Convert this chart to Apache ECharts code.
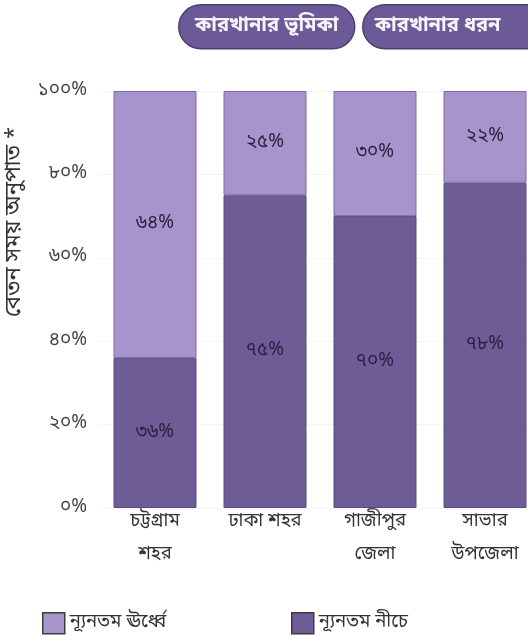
<!DOCTYPE html>
<html>
<head>
<meta charset="utf-8">
<script src="https://cdn.jsdelivr.net/npm/echarts@6/dist/echarts.min.js"></script>
<style>
html,body{margin:0;padding:0;background:#fff;overflow:hidden;}
#c{width:528px;height:637px;}
</style>
</head>
<body>
<div id="c"></div>
<script>
const categories = ['চট্টগ্রাম\nশহর', 'ঢাকা শহর', 'গাজীপুর\nজেলা', 'সাভার\nউপজেলা'];
const belowMin = [36, 75, 70, 78];
const aboveMin = [64, 25, 30, 22];
const yTicks = [0, 20, 40, 60, 80, 100];
const seriesNames = ['ন্যূনতম ঊর্ধ্বে', 'ন্যূনতম নীচে'];
const yAxisTitle = 'বেতন সময় অনুপাত *';
const buttons = ['কারখানার ভূমিকা', 'কারখানার ধরন'];

const bnDigits = ['০','১','২','৩','৪','৫','৬','৭','৮','৯'];
const toBn = s => String(s).replace(/[0-9]/g, d => bnDigits[+d]);

const FONT = '"Noto Sans Bengali","Noto Sans","Noto Serif Bengali",sans-serif';
const LIGHT = '#a794cc';
const DARK = '#6e5c97';

const chart = echarts.init(document.getElementById('c'));
chart.setOption({
  animation: false,
  textStyle: { fontFamily: FONT },
  grid: { left: 100, width: 440, top: 91, bottom: 129, outerBoundsMode: 'none', containLabel: false },
  xAxis: {
    type: 'category',
    data: categories,
    axisLine: { show: false },
    axisTick: { show: false },
    axisLabel: { color: '#333', fontSize: 18.5, lineHeight: 33, margin: -2, fontFamily: FONT }
  },
  yAxis: {
    type: 'value',
    min: yTicks[0],
    max: yTicks[yTicks.length - 1],
    interval: 20,
    axisLine: { show: false },
    axisTick: { show: false },
    splitLine: { lineStyle: { color: '#f4f4f4' } },
    axisLabel: { color: '#444', fontSize: 19, margin: 13, fontFamily: FONT, formatter: v => toBn(v) + '%' }
  },
  legend: [
    {
      data: [seriesNames[0]], left: 42, top: 612, padding: 0, itemWidth: 22, itemHeight: 21, icon: 'rect',
      itemStyle: { borderColor: '#3d3d3d', borderWidth: 1.5 },
      textStyle: { color: '#333', fontSize: 18.5, fontFamily: FONT }, itemGap: 8
    },
    {
      data: [seriesNames[1]], left: 291, top: 612, padding: 0, itemWidth: 22, itemHeight: 21, icon: 'rect',
      itemStyle: { borderColor: '#3d3d3d', borderWidth: 1.5 },
      textStyle: { color: '#333', fontSize: 18.5, fontFamily: FONT }, itemGap: 8
    }
  ],
  series: [
    {
      name: seriesNames[1], type: 'bar', stack: 's', data: belowMin, barWidth: 83,
      itemStyle: { color: DARK, borderColor: '#5b4b80', borderWidth: 1 },
      label: { show: true, position: 'inside', color: '#2a2040', fontSize: 19, fontFamily: FONT, formatter: p => toBn(p.value) + '%' }
    },
    {
      name: seriesNames[0], type: 'bar', stack: 's', data: aboveMin, barWidth: 83,
      itemStyle: { color: LIGHT, borderColor: '#7c6ba3', borderWidth: 1 },
      label: { show: true, position: 'inside', color: '#2a2040', fontSize: 19, fontFamily: FONT, formatter: p => toBn(p.value) + '%' }
    }
  ],
  graphic: [
    {
      type: 'text', left: 5, top: 127, rotation: Math.PI / 2,
      style: { text: yAxisTitle, fill: '#333', font: '22px ' + FONT }
    },
    {
      type: 'group', left: 178, top: 4,
      children: [
        { type: 'rect', shape: { x: 0, y: 0, width: 176, height: 44, r: 22 }, style: { fill: '#6c5a98', stroke: '#4d3f70', lineWidth: 1.5 } },
        { type: 'text', x: 88, y: 22, style: { text: buttons[0], fill: '#f6f4fa', font: 'bold 20px ' + FONT, align: 'center', verticalAlign: 'middle' } }
      ]
    },
    {
      type: 'group', left: 362, top: 4,
      children: [
        { type: 'rect', shape: { x: 0, y: 0, width: 200, height: 44, r: 22 }, style: { fill: '#6c5a98', stroke: '#4d3f70', lineWidth: 1.5 } },
        { type: 'text', x: 12, y: 22, style: { text: buttons[1], fill: '#f6f4fa', font: 'bold 20px ' + FONT, align: 'left', verticalAlign: 'middle' } }
      ]
    }
  ]
});
</script>
</body>
</html>
